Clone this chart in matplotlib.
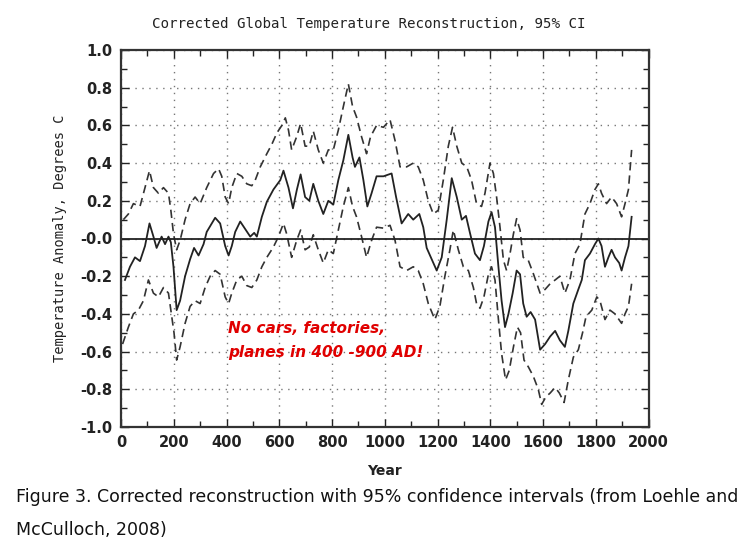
import matplotlib
matplotlib.use("Agg")
import matplotlib.pyplot as plt
from matplotlib.ticker import MultipleLocator

# ---- data ----
mid_years = [15, 34, 53, 72, 91, 108, 123, 135, 154, 167, 180, 189, 199, 211, 224, 243, 262, 277, 294, 313, 325,
             357, 376, 395, 408, 420, 433, 452, 471, 490, 505, 515, 534, 553, 578, 604, 616, 635, 652, 667, 681,
             698, 714, 729, 748, 767, 786, 805, 824, 843, 862, 878, 887, 904, 919, 934, 950, 969, 995, 1026,
             1043, 1064, 1089, 1108, 1131, 1146, 1159, 1178, 1197, 1216, 1235, 1254, 1273, 1292, 1308, 1323,
             1342, 1361, 1376, 1393, 1405, 1418, 1431, 1443, 1456, 1469, 1485, 1500, 1513, 1525, 1538, 1553,
             1570, 1589, 1608, 1627, 1646, 1664, 1683, 1696, 1715, 1734, 1747, 1759, 1778, 1797, 1810, 1822,
             1835, 1848, 1860, 1873, 1889, 1898, 1911, 1924, 1936]
mid_vals = [-0.22, -0.15, -0.10, -0.12, -0.04, 0.08, 0.01, -0.05, 0.01, -0.03, 0.01, -0.02, -0.15, -0.38, -0.33,
            -0.20, -0.11, -0.05, -0.09, -0.03, 0.035, 0.11, 0.08, -0.04, -0.09, -0.04, 0.035, 0.09, 0.05, 0.01,
            0.03, 0.01, 0.115, 0.195, 0.26, 0.31, 0.36, 0.27, 0.16, 0.26, 0.34, 0.22, 0.20, 0.29, 0.20, 0.13,
            0.20, 0.18, 0.31, 0.415, 0.55, 0.43, 0.38, 0.43, 0.31, 0.17, 0.24, 0.33, 0.33, 0.345, 0.22, 0.08,
            0.13, 0.10, 0.13, 0.06, -0.05, -0.11, -0.17, -0.10, 0.10, 0.32, 0.22, 0.10, 0.12, 0.03, -0.08,
            -0.115, -0.04, 0.09, 0.14, 0.06, -0.15, -0.33, -0.47, -0.40, -0.29, -0.17, -0.19, -0.345, -0.415,
            -0.39, -0.43, -0.59, -0.56, -0.52, -0.49, -0.54, -0.575, -0.49, -0.345, -0.27, -0.22, -0.115, -0.08,
            -0.03, 0.0, -0.04, -0.15, -0.10, -0.06, -0.10, -0.13, -0.17, -0.10, -0.04, 0.115]

up_years = [9, 28, 47, 72, 91, 108, 123, 142, 161, 180, 189, 199, 211, 224, 243, 262, 281, 300, 325, 351, 370,
            382, 395, 408, 420, 439, 458, 477, 496, 509, 528, 553, 572, 591, 610, 623, 635, 647, 666, 681, 698,
            714, 729, 748, 767, 786, 805, 824, 843, 862, 878, 893, 912, 931, 946, 969, 995, 1020, 1039, 1058,
            1083, 1108, 1127, 1146, 1165, 1184, 1203, 1222, 1241, 1257, 1273, 1292, 1311, 1329, 1348, 1367,
            1380, 1399, 1412, 1424, 1437, 1450, 1462, 1475, 1488, 1500, 1513, 1525, 1544, 1563, 1589, 1608,
            1627, 1646, 1664, 1683, 1702, 1721, 1740, 1759, 1778, 1797, 1810, 1822, 1841, 1860, 1879, 1898,
            1911, 1924, 1936]
up_vals = [0.10, 0.13, 0.185, 0.17, 0.27, 0.36, 0.27, 0.24, 0.27, 0.24, 0.15, 0.025, -0.06, -0.01, 0.10, 0.185,
           0.22, 0.185, 0.27, 0.345, 0.37, 0.33, 0.22, 0.185, 0.27, 0.345, 0.33, 0.29, 0.28, 0.31, 0.38, 0.45,
           0.50, 0.56, 0.60, 0.64, 0.575, 0.47, 0.54, 0.61, 0.49, 0.49, 0.57, 0.47, 0.40, 0.47, 0.47, 0.575,
           0.70, 0.82, 0.70, 0.645, 0.54, 0.45, 0.54, 0.60, 0.59, 0.63, 0.52, 0.38, 0.38, 0.40, 0.38, 0.31,
           0.20, 0.13, 0.15, 0.31, 0.49, 0.59, 0.49, 0.40, 0.38, 0.31, 0.185, 0.17, 0.24, 0.40, 0.345, 0.22,
           0.06, -0.115, -0.17, -0.08, 0.025, 0.105, 0.045, -0.10, -0.115, -0.185, -0.29, -0.27, -0.24, -0.22,
           -0.20, -0.29, -0.22, -0.08, -0.03, 0.13, 0.185, 0.26, 0.29, 0.24, 0.185, 0.22, 0.185, 0.115, 0.185,
           0.26, 0.47]

lo_years = [6, 28, 47, 66, 85, 104, 123, 142, 161, 180, 189, 201, 211, 224, 243, 262, 281, 300, 319, 338, 357,
            376, 395, 408, 420, 439, 458, 477, 496, 515, 534, 553, 578, 597, 616, 628, 647, 666, 681, 698, 714,
            729, 748, 767, 786, 805, 824, 843, 862, 878, 893, 912, 931, 950, 969, 995, 1020, 1039, 1058, 1083,
            1108, 1127, 1146, 1165, 1190, 1209, 1228, 1247, 1260, 1279, 1298, 1317, 1336, 1348, 1361, 1376,
            1393, 1405, 1418, 1431, 1443, 1458, 1472, 1488, 1503, 1515, 1528, 1544, 1563, 1582, 1595, 1611,
            1627, 1646, 1662, 1680, 1696, 1715, 1734, 1750, 1763, 1785, 1804, 1816, 1835, 1854, 1873, 1898,
            1911, 1924, 1936]
lo_vals = [-0.56, -0.47, -0.40, -0.38, -0.33, -0.22, -0.29, -0.31, -0.26, -0.29, -0.38, -0.50, -0.645, -0.575,
           -0.45, -0.36, -0.33, -0.345, -0.26, -0.20, -0.17, -0.19, -0.31, -0.345, -0.29, -0.22, -0.20, -0.25,
           -0.26, -0.22, -0.15, -0.10, -0.045, 0.01, 0.08, 0.025, -0.10, -0.01, 0.045, -0.06, -0.045, 0.02,
           -0.06, -0.13, -0.06, -0.08, 0.045, 0.17, 0.27, 0.17, 0.115, 0.01, -0.10, -0.01, 0.06, 0.055, 0.07,
           -0.01, -0.15, -0.17, -0.15, -0.17, -0.24, -0.345, -0.43, -0.36, -0.20, -0.06, 0.045, -0.06, -0.15,
           -0.17, -0.26, -0.345, -0.37, -0.31, -0.19, -0.15, -0.22, -0.43, -0.61, -0.75, -0.70, -0.575, -0.47,
           -0.50, -0.645, -0.68, -0.73, -0.80, -0.88, -0.84, -0.82, -0.79, -0.82, -0.87, -0.75, -0.63, -0.59,
           -0.50, -0.415, -0.38, -0.31, -0.33, -0.43, -0.38, -0.40, -0.45, -0.40, -0.36, -0.24]

x_ticks = list(range(0, 2001, 200))
y_ticks = [1.0, 0.8, 0.6, 0.4, 0.2, 0.0, -0.2, -0.4, -0.6, -0.8, -1.0]
y_tick_labels = ["1.0", "0.8", "0.6", "0.4", "0.2", "-0.0", "-0.2", "-0.4", "-0.6", "-0.8", "-1.0"]

title = "Corrected Global Temperature Reconstruction, 95% CI"
xlabel = "Year"
ylabel = "Temperature Anomaly, Degrees C"
note = "No cars, factories,\nplanes in 400 -900 AD!"
caption1 = "Figure 3. Corrected reconstruction with 95% confidence intervals (from Loehle and"
caption2 = "McCulloch, 2008)"

# ---- figure ----
W, H = 741, 550
fig = plt.figure(figsize=(W / 100, H / 100), dpi=100)
fig.patch.set_facecolor("white")
ax = fig.add_axes([121 / W, 1 - 427 / H, 527.5 / W, 377 / H])

ax.plot(up_years, up_vals, color="#333333", lw=1.2, ls=(0, (5, 3)))
ax.plot(lo_years, lo_vals, color="#333333", lw=1.2, ls=(0, (5, 3)))
ax.plot(mid_years, mid_vals, color="#222222", lw=1.3)
ax.axhline(0, color="#222222", lw=1.3)

ax.set_xlim(0, 2000)
ax.set_ylim(-1.0, 1.0)
ax.set_xticks(x_ticks)
ax.set_xticklabels([str(v) for v in x_ticks])
ax.set_yticks(y_ticks)
ax.set_yticklabels(y_tick_labels)
ax.xaxis.set_minor_locator(MultipleLocator(100))
ax.yaxis.set_minor_locator(MultipleLocator(0.1))
ax.tick_params(which="both", direction="in", top=True, right=True, color="#222222")
ax.tick_params(which="major", length=6, width=1, labelsize=10.5, pad=6, labelcolor="#222222")
ax.tick_params(which="minor", length=4, width=1)
for lbl in ax.get_xticklabels() + ax.get_yticklabels():
    lbl.set_fontweight("bold")
    lbl.set_fontfamily("DejaVu Sans")
ax.grid(True, which="major", color="#777777", ls=(0, (1, 4)), lw=1.0)
for s in ax.spines.values():
    s.set_linewidth(1.6)
    s.set_color("#333333")

ax.set_xlabel(xlabel, fontsize=10, fontweight="bold", color="#222222", labelpad=10)
ax.set_ylabel(ylabel, fontsize=9.8, color="#222222", family="DejaVu Sans Mono", labelpad=10)
fig.text(369 / W, 1 - 24 / H, title, ha="center", va="center", fontsize=10.2,
         family="DejaVu Sans Mono", color="#222222")

ax.text(406, -0.54, note, color="#e00000", fontsize=11, fontweight="bold", style="italic",
        va="center", ha="left", linespacing=1.75, family="DejaVu Sans")

fig.text(16 / W, 1 - 497 / H, caption1, ha="left", va="center", fontsize=12.5,
         family=["Liberation Sans Narrow", "DejaVu Sans"], color="#111111")
fig.text(16 / W, 1 - 530 / H, caption2, ha="left", va="center", fontsize=12.5,
         family=["Liberation Sans Narrow", "DejaVu Sans"], color="#111111")

fig.savefig("out.png", dpi=100, facecolor="white")
